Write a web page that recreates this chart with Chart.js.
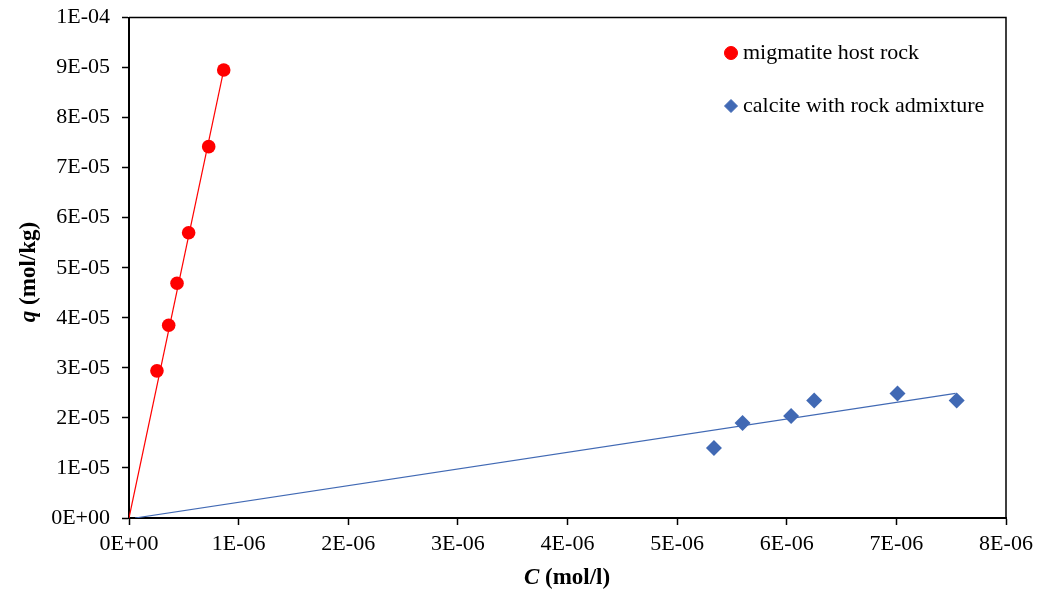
<!DOCTYPE html>
<html>
<head>
<meta charset="utf-8">
<script src="https://cdn.jsdelivr.net/npm/chart.js@4/dist/chart.umd.min.js"></script>
<style>
  html, body { margin: 0; padding: 0; background: #fff; }
  #box { width: 1038px; height: 594px; }
</style>
</head>
<body>
<div id="box"><canvas id="myChart"></canvas></div>
<script>
// measured points
const hostC = [0.255e-6, 0.362e-6, 0.438e-6, 0.544e-6, 0.727e-6, 0.864e-6];
const hostQ = [2.94e-5, 3.85e-5, 4.69e-5, 5.70e-5, 7.42e-5, 8.95e-5];
const calciteC = [5.336e-6, 5.597e-6, 6.04e-6, 6.25e-6, 7.01e-6, 7.55e-6];
const calciteQ = [1.40e-5, 1.90e-5, 2.04e-5, 2.35e-5, 2.49e-5, 2.35e-5];

// linear fits (end points)
const hostFitC = [0, 0.864e-6];
const hostFitQ = [0, 8.95e-5];
const calciteFitC = [0.055e-6, 7.54e-6];
const calciteFitQ = [0, 2.49e-5];

// axis ticks
const xTicks = [0, 1e-6, 2e-6, 3e-6, 4e-6, 5e-6, 6e-6, 7e-6, 8e-6];
const yTicks = [0, 1e-5, 2e-5, 3e-5, 4e-5, 5e-5, 6e-5, 7e-5, 8e-5, 9e-5, 1e-4];

const seriesNames = ['migmatite host rock', 'calcite with rock admixture'];
const red = '#ff0000';
const blue = '#4169b4';
const FONT = "'Liberation Serif', 'Times New Roman', serif";

function toPoints(xs, ys) {
    return xs.map((x, i) => ({ x: x, y: ys[i] }));
}

function sciLabel(v) {
    if (Math.abs(v) < 1e-20) return '0E+00';
    let exp = Math.floor(Math.log10(Math.abs(v)) + 1e-9);
    let mant = Math.round(v / Math.pow(10, exp));
    if (mant >= 10) { mant = 1; exp += 1; }
    const sign = exp < 0 ? '-' : '+';
    const e = String(Math.abs(exp)).padStart(2, '0');
    return mant + 'E' + sign + e;
}

/*****PLUGINS*****
*****************/
const frame = {
    id: 'frame',
    afterDatasetsDraw(chart) {
        const a = chart.chartArea;
        const c = chart.ctx;
        c.save();
        c.strokeStyle = '#000';
        c.lineWidth = 1.5;
        c.beginPath();
        c.moveTo(a.left, a.top);
        c.lineTo(a.right, a.top);
        c.lineTo(a.right, a.bottom);
        c.stroke();
        c.restore();
    }
};

const axisTitles = {
    id: 'axisTitles',
    afterDraw(chart) {
        const c = chart.ctx;
        c.save();
        c.fillStyle = '#000';
        c.textBaseline = 'middle';
        const drawTitle = (sym, rest, cx, cy) => {
            c.font = 'italic bold 23px ' + FONT;
            const w1 = c.measureText(sym).width;
            c.font = 'bold 23px ' + FONT;
            const w2 = c.measureText(rest).width;
            let x = cx - (w1 + w2) / 2;
            c.textAlign = 'left';
            c.font = 'italic bold 23px ' + FONT;
            c.fillText(sym, x, cy);
            c.font = 'bold 23px ' + FONT;
            c.fillText(rest, x + w1, cy);
        };
        drawTitle('C', ' (mol/l)', 567, 578);
        c.translate(29, 272);
        c.rotate(-Math.PI / 2);
        drawTitle('q', ' (mol/kg)', 0, 0);
        c.restore();
    }
};

const sideLegend = {
    id: 'sideLegend',
    afterDraw(chart) {
        const c = chart.ctx;
        const rows = [
            { ds: chart.data.datasets[0], x: 731, y: 53, r: 6.5 },
            { ds: chart.data.datasets[1], x: 731, y: 106, r: 6.5 }
        ];
        c.save();
        rows.forEach((row, i) => {
            c.fillStyle = row.ds.backgroundColor;
            c.strokeStyle = row.ds.borderColor;
            c.lineWidth = 1;
            Chart.helpers.drawPoint(c, { pointStyle: row.ds.pointStyle, radius: row.r, rotation: 0, borderWidth: 1 }, row.x, row.y);
            c.fillStyle = '#000';
            c.font = '22px ' + FONT;
            c.textAlign = 'left';
            c.textBaseline = 'middle';
            c.fillText(seriesNames[i], row.x + 12, row.y);
        });
        c.restore();
    }
};

/*****CHART*****
***************/
const ctx = document.getElementById('myChart');

new Chart(ctx, {
    type: 'scatter',
    data: {
        datasets: [{
            label: seriesNames[0],
            data: toPoints(hostC, hostQ),
            pointStyle: 'circle',
            pointRadius: 6.8,
            pointHoverRadius: 6.8,
            backgroundColor: red,
            borderColor: red,
            borderWidth: 0,
            order: 1
        }, {
            label: seriesNames[1],
            data: toPoints(calciteC, calciteQ),
            pointStyle: 'rectRot',
            pointRadius: 8,
            pointHoverRadius: 8,
            backgroundColor: blue,
            borderColor: blue,
            borderWidth: 0,
            order: 1
        }, {
            label: 'fit host',
            data: toPoints(hostFitC, hostFitQ),
            showLine: true,
            pointRadius: 0,
            borderColor: red,
            borderWidth: 1.2,
            order: 2
        }, {
            label: 'fit calcite',
            data: toPoints(calciteFitC, calciteFitQ),
            showLine: true,
            pointRadius: 0,
            borderColor: blue,
            borderWidth: 1.2,
            order: 2
        }]
    },
    options: {
        responsive: true,
        maintainAspectRatio: false,
        animation: false,
        layout: { padding: { left: 0, top: 17.5, right: 32, bottom: 0 } },
        plugins: {
            legend: { display: false },
            tooltip: { enabled: false }
        },
        scales: {
            x: {
                type: 'linear',
                min: 0,
                max: 8e-6,
                afterBuildTicks: (scale) => { scale.ticks = xTicks.map(v => ({ value: v })); },
                afterFit: (scale) => { scale.height = 76; scale.paddingLeft = 0; scale.paddingRight = 0; },
                grid: {
                    drawOnChartArea: false,
                    drawTicks: true,
                    tickLength: 7,
                    tickColor: '#000',
                    tickWidth: 1.5
                },
                border: { color: '#000', width: 2 },
                ticks: {
                    color: '#000',
                    padding: 6,
                    maxRotation: 0,
                    font: { family: FONT, size: 22 },
                    callback: (v) => sciLabel(v)
                }
            },
            y: {
                type: 'linear',
                min: 0,
                max: 1e-4,
                afterBuildTicks: (scale) => { scale.ticks = yTicks.map(v => ({ value: v })); },
                afterFit: (scale) => { scale.width = 129; scale.paddingTop = 0; scale.paddingBottom = 0; },
                grid: {
                    drawOnChartArea: false,
                    drawTicks: true,
                    tickLength: 7,
                    tickColor: '#000',
                    tickWidth: 1.5
                },
                border: { color: '#000', width: 2 },
                ticks: {
                    color: '#000',
                    padding: 12,
                    font: { family: FONT, size: 22 },
                    callback: (v) => sciLabel(v)
                }
            }
        }
    },
    plugins: [frame, axisTitles, sideLegend]
});
</script>
</body>
</html>
